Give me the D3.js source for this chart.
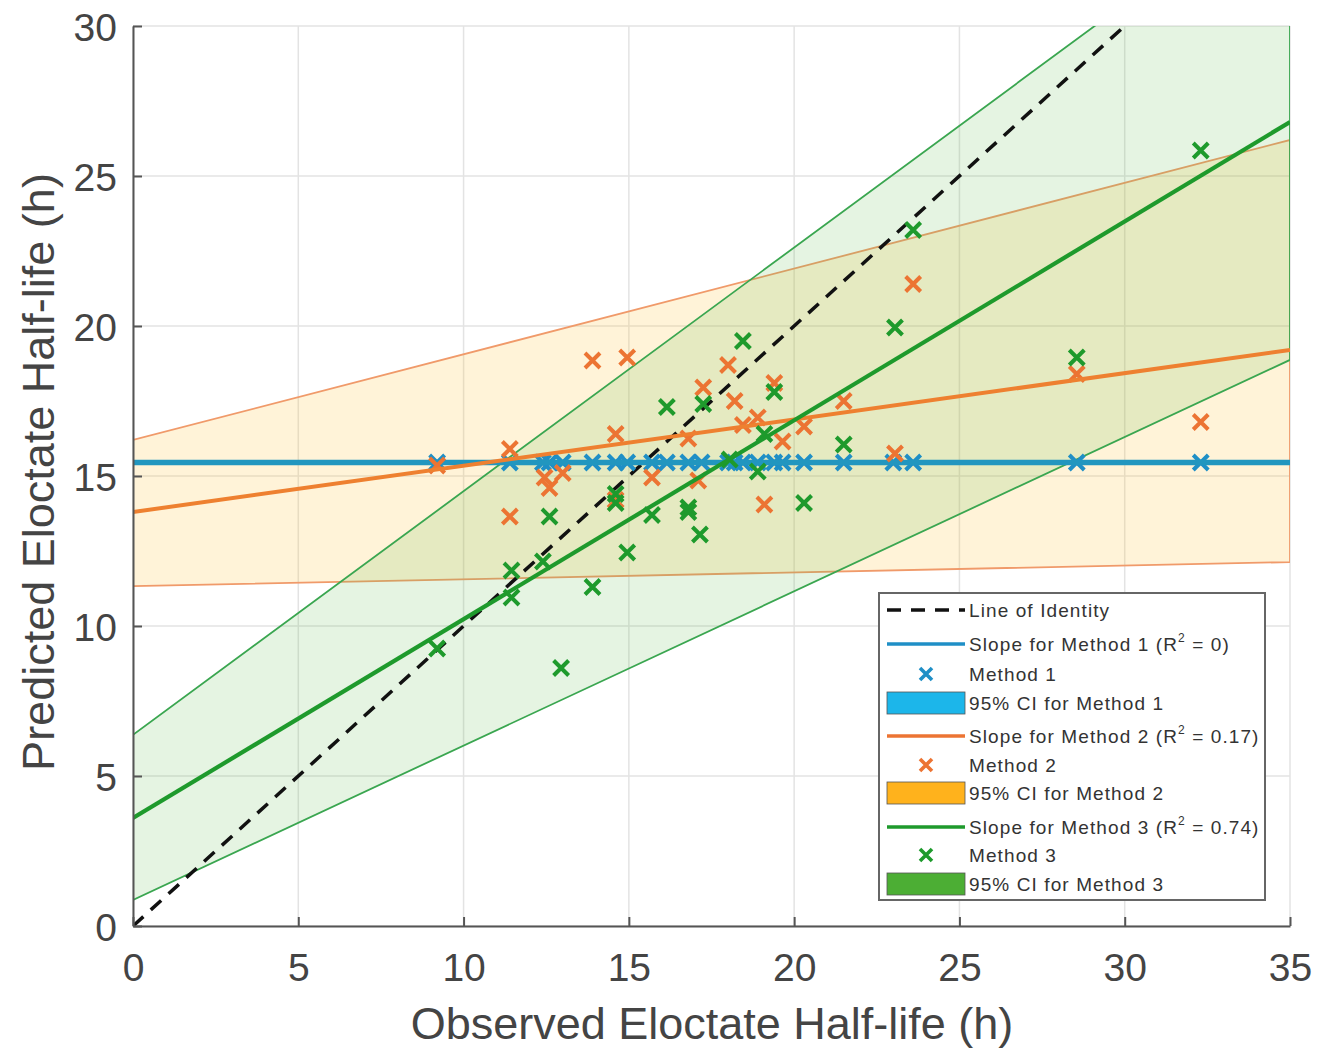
<!DOCTYPE html>
<html>
<head>
<meta charset="utf-8">
<script src="https://cdn.jsdelivr.net/npm/d3@7"></script>
<style>
  body { margin: 0; background: #fff; }
  svg { font-family: "Liberation Sans", Arial, sans-serif; }
</style>
</head>
<body>
<svg id="chart" width="1319" height="1050"></svg>
<script>
// Data
const xTicks = [0, 5, 10, 15, 20, 25, 30, 35];
const yTicks = [0, 5, 10, 15, 20, 25, 30];

// Method 1 predicts a constant value
const method1X = [9.2, 11.4, 12.4, 12.6, 13.0, 13.9, 14.6, 14.95, 15.7, 16.15, 16.8, 17.2, 18.0, 18.2, 18.45, 18.9, 19.4, 19.65, 20.3, 21.5, 23.0, 23.6, 28.55, 32.3];
const method1Y = method1X.map(() => 15.45);

const method2X = [9.2, 11.4, 11.4, 12.45, 12.6, 13.0, 13.9, 14.95, 14.6, 14.6, 15.7, 16.8, 17.1, 18.0, 17.25, 18.2, 19.4, 18.45, 18.9, 19.65, 20.3, 21.5, 19.1, 23.05, 23.6, 28.55, 32.3];
const method2Y = [15.35, 15.9, 13.65, 14.95, 14.6, 15.1, 18.85, 18.95, 16.4, 14.2, 14.95, 16.25, 14.85, 18.7, 17.95, 17.5, 18.1, 16.7, 16.95, 16.15, 16.65, 17.5, 14.05, 15.75, 21.4, 18.4, 16.8];

const method3X = [9.2, 11.45, 11.45, 12.4, 12.6, 12.95, 13.9, 14.6, 14.6, 14.95, 15.7, 16.15, 16.8, 16.8, 17.15, 17.25, 18.05, 18.45, 19.4, 18.9, 19.1, 21.5, 20.3, 23.05, 23.6, 28.55, 32.3];
const method3Y = [9.25, 11.85, 10.95, 12.15, 13.65, 8.6, 11.3, 14.4, 14.1, 12.45, 13.7, 17.3, 13.95, 13.8, 13.05, 17.4, 15.55, 19.5, 17.8, 15.15, 16.4, 16.05, 14.1, 19.95, 23.2, 18.95, 25.85];

// Fit lines as [y at x=0, y at x=35]
const fitX = [0, 35];
const fit1 = [15.45, 15.45];
const fit2 = [13.8, 19.2];
const fit2Lower = [11.33, 12.13];
const fit2Upper = [16.2, 26.2];
const fit3 = [3.6, 26.8];
const fit3Lower = [0.87, 18.87];
const fit3Upper = [6.37, 34.8];

const legendLabels = ["Line of Identity", "Slope for Method 1 (R|2| = 0)", "Method 1", "95% CI for Method 1",
  "Slope for Method 2 (R|2| = 0.17)", "Method 2", "95% CI for Method 2",
  "Slope for Method 3 (R|2| = 0.74)", "Method 3", "95% CI for Method 3"];

// Layout
const margin = { top: 26, right: 29, bottom: 124, left: 133 };
const width = 1319 - margin.left - margin.right;
const height = 1050 - margin.top - margin.bottom;

const blue = "#1f8fc6", orange = "#ec7433", green = "#1e9a2c";

const svg = d3.select("#chart");
svg.append("defs").append("clipPath").attr("id", "plotClip")
  .append("rect").attr("width", width).attr("height", height);

const g = svg.append("g").attr("transform", `translate(${margin.left},${margin.top})`);

const x = d3.scaleLinear().domain([0, 35]).range([0, width]);
const y = d3.scaleLinear().domain([0, 30]).range([height, 0]);

// grid
g.append("g").selectAll("line").data(xTicks).join("line")
  .attr("x1", d => x(d)).attr("x2", d => x(d)).attr("y1", 0).attr("y2", height)
  .attr("stroke", "#e3e3e3").attr("stroke-width", 1.5);
g.append("g").selectAll("line").data(yTicks).join("line")
  .attr("y1", d => y(d)).attr("y2", d => y(d)).attr("x1", 0).attr("x2", width)
  .attr("stroke", "#e3e3e3").attr("stroke-width", 1.5);

const plot = g.append("g").attr("clip-path", "url(#plotClip)");

function band(lower, upper) {
  return [[fitX[0], lower[0]], [fitX[1], lower[1]], [fitX[1], upper[1]], [fitX[0], upper[0]]];
}
const poly = d3.line().x(d => x(d[0])).y(d => y(d[1]));

// CI bands
plot.append("path").attr("d", poly(band(fit2Lower, fit2Upper)) + "Z")
  .attr("fill", "#ffc53a").attr("fill-opacity", 0.2)
  .attr("stroke", "#f09a6a").attr("stroke-width", 1.8);
plot.append("path").attr("d", poly(band(fit3Lower, fit3Upper)) + "Z")
  .attr("fill", "#5cb84a").attr("fill-opacity", 0.16)
  .attr("stroke", "#3aa650").attr("stroke-width", 1.8);

// identity line
plot.append("path").attr("d", poly([[0, 0], [35, 35]]))
  .attr("stroke", "#111").attr("stroke-width", 3.5).attr("stroke-dasharray", "14,10").attr("fill", "none");

function fitLine(vals, color, w) {
  plot.append("path").attr("d", poly(fitX.map((v, i) => [v, vals[i]])))
    .attr("stroke", color).attr("stroke-width", w).attr("fill", "none");
}

function markers(xs, ys, color) {
  const s = 7.5;
  plot.append("g").selectAll("path").data(xs.map((v, i) => [v, ys[i]])).join("path")
    .attr("d", d => {
      const cx = x(d[0]), cy = y(d[1]);
      return `M${cx - s},${cy - s}L${cx + s},${cy + s}M${cx - s},${cy + s}L${cx + s},${cy - s}`;
    })
    .attr("stroke", color).attr("stroke-width", 4).attr("fill", "none");
}

markers(method1X, method1Y, blue);
fitLine(fit1, "#2296bf", 5.5);
markers(method2X, method2Y, orange);
fitLine(fit2, "#ee8030", 4);
markers(method3X, method3Y, green);
fitLine(fit3, green, 4.2);

// axes
const xAxis = d3.axisBottom(x).tickValues(xTicks).tickSizeInner(-9).tickSizeOuter(0).tickPadding(27);
const yAxis = d3.axisLeft(y).tickValues(yTicks).tickSizeInner(-9).tickSizeOuter(0).tickPadding(16);

const gx = g.append("g").attr("transform", `translate(0,${height})`).call(xAxis);
const gy = g.append("g").call(yAxis);
[gx, gy].forEach(a => {
  a.select(".domain").attr("stroke", "#555").attr("stroke-width", 2);
  a.selectAll(".tick line").attr("stroke", "#555").attr("stroke-width", 2);
  a.selectAll(".tick text").attr("fill", "#444").style("font-size", "39px");
});
gy.selectAll(".tick text").attr("dy", "0.36em");

svg.append("text").attr("x", 712).attr("y", 1039)
  .attr("text-anchor", "middle").style("font-size", "45px").attr("fill", "#444")
  .text("Observed Eloctate Half-life (h)");
svg.append("text").attr("transform", "translate(54,472) rotate(-90)")
  .attr("text-anchor", "middle").style("font-size", "45px").attr("fill", "#444")
  .text("Predicted Eloctate Half-life (h)");

// legend
const lg = svg.append("g").attr("transform", "translate(879,593)");
lg.append("rect").attr("width", 386).attr("height", 307)
  .attr("fill", "#fff").attr("stroke", "#666").attr("stroke-width", 2);

const rowY = [17, 51, 81, 110, 143, 172, 200, 234, 262, 291];
const kinds = ["dash", "line", "mark", "patch", "line", "mark", "patch", "line", "mark", "patch"];
const kindColor = ["#111", blue, blue, "#1cb6ea", orange, orange, "#ffb21c", green, green, "#4cae34"];

legendLabels.forEach((label, i) => {
  const ry = rowY[i], c = kindColor[i];
  if (kinds[i] === "dash") {
    lg.append("line").attr("x1", 8).attr("x2", 86).attr("y1", ry).attr("y2", ry)
      .attr("stroke", c).attr("stroke-width", 3.5).attr("stroke-dasharray", "14,10");
  } else if (kinds[i] === "line") {
    lg.append("line").attr("x1", 8).attr("x2", 86).attr("y1", ry).attr("y2", ry)
      .attr("stroke", c).attr("stroke-width", 3.5);
  } else if (kinds[i] === "mark") {
    const cx = 47, s = 6;
    lg.append("path").attr("d", `M${cx - s},${ry - s}L${cx + s},${ry + s}M${cx - s},${ry + s}L${cx + s},${ry - s}`)
      .attr("stroke", c).attr("stroke-width", 3.6);
  } else {
    lg.append("rect").attr("x", 8).attr("y", ry - 11).attr("width", 78).attr("height", 22)
      .attr("fill", c).attr("stroke", "#555").attr("stroke-width", 0.8);
  }
  const t = lg.append("text").attr("x", 90).attr("y", ry + 7)
    .style("font-size", "19px").attr("fill", "#333").attr("letter-spacing", "1.1");
  const parts = label.split("|");
  t.append("tspan").text(parts[0]);
  if (parts.length > 1) {
    t.append("tspan").attr("dy", -9).style("font-size", "12px").text(parts[1]);
    t.append("tspan").attr("dy", 9).text(parts[2]);
  }
});
</script>
</body>
</html>
